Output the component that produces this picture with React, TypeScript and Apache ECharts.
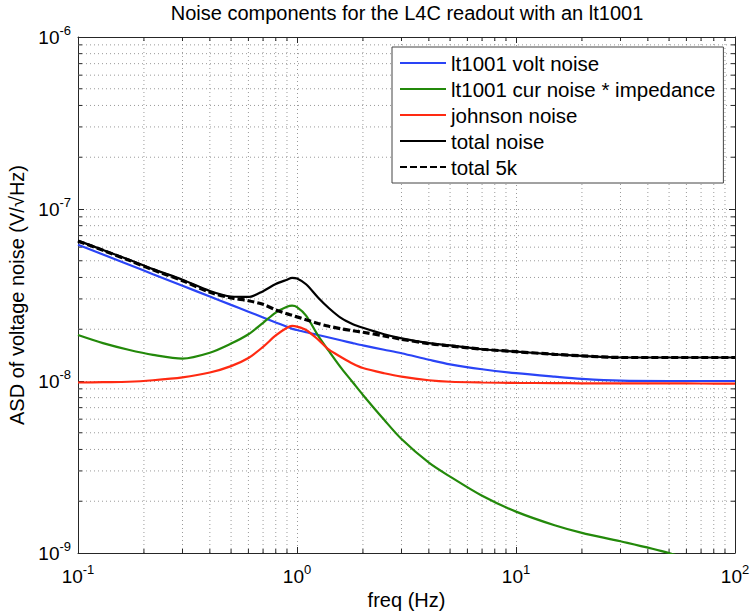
import React, { useEffect, useRef } from 'react';
import * as echarts from 'echarts';

// frequency grid (Hz)
const freqHz = [0.1, 0.13, 0.17, 0.22, 0.3, 0.4, 0.5, 0.6, 0.7, 0.8, 0.9, 0.95, 1.0, 1.1, 1.25, 1.4, 1.6, 1.8, 2.0, 2.5, 3, 4, 5, 7, 10, 15, 20, 30, 50, 70, 100];

// values in nV/sqrt(Hz)
const voltNoiseNV = [62, 54.4, 47.6, 41.8, 35.8, 31.0, 27.7, 25.3, 23.4, 21.9, 20.7, 20.1, 19.8, 19.2, 18.5, 17.9, 17.2, 16.6, 16.1, 15.2, 14.5, 13.3, 12.5, 11.7, 11.1, 10.6, 10.3, 10.05, 10.0, 10.0, 10.0];
const curNoiseNV = [18.5, 16.6, 15.2, 14.2, 13.5, 14.6, 16.5, 18.7, 21.8, 25.0, 27.0, 27.4, 26.9, 24.0, 18.3, 14.9, 11.8, 9.8, 8.3, 5.95, 4.6, 3.35, 2.78, 2.15, 1.74, 1.45, 1.31, 1.17, 1.00, 0.87, 0.75];
const johnsonNoiseNV = [9.8, 9.85, 9.9, 10.1, 10.5, 11.2, 12.2, 13.6, 15.8, 18.4, 20.4, 20.9, 20.7, 19.8, 17.4, 15.2, 13.7, 12.6, 11.9, 11.1, 10.6, 10.1, 9.9, 9.8, 9.75, 9.72, 9.7, 9.7, 9.68, 9.67, 9.65];
const totalNoiseNV = [65.5, 57.8, 50.8, 44.7, 38.8, 33.4, 31.0, 30.8, 33.3, 36.6, 38.8, 39.8, 39.5, 36.5, 30.5, 26.5, 23.1, 21.4, 20.4, 18.7, 17.7, 16.6, 16.1, 15.3, 14.8, 14.3, 14.0, 13.7, 13.7, 13.7, 13.7];
const total5kNV = [65.0, 57.5, 50.5, 44.3, 38.3, 32.8, 30.4, 29.3, 27.9, 25.9, 24.6, 24.1, 23.6, 22.7, 21.6, 20.8, 20.1, 19.6, 19.2, 18.3, 17.5, 16.5, 16.0, 15.3, 14.8, 14.3, 14.0, 13.7, 13.7, 13.7, 13.7];

const seriesNames = ['lt1001 volt noise', 'lt1001 cur noise * impedance', 'johnson noise', 'total noise', 'total 5k'];
const seriesColors = ['#2a44f6', '#23890a', '#ff2a12', '#000000', '#000000'];

const X_MIN = 0.1;
const X_MAX = 100;
const Y_MIN = 1e-9;
const Y_MAX = 1e-6;

const xMinorTicks: number[] = [];
for (const d of [0.1, 1, 10]) for (let k = 2; k <= 9; k++) xMinorTicks.push(+(k * d).toPrecision(3));
const yMinorTicks: number[] = [];
for (const d of [1e-9, 1e-8, 1e-7]) for (let k = 2; k <= 9; k++) yMinorTicks.push(+(k * d).toPrecision(3));

const FONT = "'Liberation Sans', Arial, Helvetica, sans-serif";
const GRID_COLOR = '#9a9a9a';
const AXIS_COLOR = '#262626';

const toPairs = (vals: number[]) => freqHz.map((f, i) => [f, vals[i] * 1e-9]);

const powLabel = (v: number) => {
  const e = Math.round(Math.log10(v));
  return `{b|10}{s|${e}}`;
};
const richPow = {
  b: { fontSize: 19, fontFamily: FONT, color: '#000', lineHeight: 26 },
  s: { fontSize: 13, fontFamily: FONT, color: '#000', lineHeight: 13, verticalAlign: 'top' },
};

export default function App() {
  const ref = useRef<HTMLDivElement>(null);
  useEffect(() => {
    if (!ref.current) return;
    const chart = echarts.init(ref.current, undefined, { renderer: 'svg' });

    const lineSeries = [voltNoiseNV, curNoiseNV, johnsonNoiseNV, totalNoiseNV, total5kNV].map((vals, i) => ({
      name: seriesNames[i],
      type: 'line',
      xAxisIndex: 0,
      yAxisIndex: 0,
      data: toPairs(vals),
      showSymbol: false,
      symbol: 'none',
      smooth: 0.3,
      clip: true,
      z: 3 + i,
      lineStyle: {
        color: seriesColors[i],
        width: i === 4 ? 3.2 : 2.2,
        type: i === 4 ? [7, 3] : 'solid',
      },
      itemStyle: { color: seriesColors[i] },
      emphasis: { disabled: true },
    }));

    const minorX = {
      type: 'custom',
      xAxisIndex: 0,
      yAxisIndex: 0,
      silent: true,
      z: 1,
      clip: false,
      data: xMinorTicks.map((v) => [v, Y_MIN]),
      renderItem: (_p: any, api: any) => {
        const v = api.value(0);
        const b = api.coord([v, Y_MIN]);
        const t = api.coord([v, Y_MAX]);
        return {
          type: 'group',
          children: [
            { type: 'line', shape: { x1: b[0], y1: b[1], x2: t[0], y2: t[1] }, style: { stroke: GRID_COLOR, lineWidth: 1, lineDash: [1, 3] } },
            { type: 'line', shape: { x1: b[0], y1: b[1], x2: b[0], y2: b[1] - 4 }, style: { stroke: AXIS_COLOR, lineWidth: 1 } },
            { type: 'line', shape: { x1: t[0], y1: t[1], x2: t[0], y2: t[1] + 4 }, style: { stroke: AXIS_COLOR, lineWidth: 1 } },
          ],
        };
      },
    };
    const minorY = {
      type: 'custom',
      xAxisIndex: 0,
      yAxisIndex: 0,
      silent: true,
      z: 1,
      clip: false,
      data: yMinorTicks.map((v) => [X_MIN, v]),
      renderItem: (_p: any, api: any) => {
        const v = api.value(1);
        const l = api.coord([X_MIN, v]);
        const r = api.coord([X_MAX, v]);
        return {
          type: 'group',
          children: [
            { type: 'line', shape: { x1: l[0], y1: l[1], x2: r[0], y2: r[1] }, style: { stroke: GRID_COLOR, lineWidth: 1, lineDash: [1, 3] } },
            { type: 'line', shape: { x1: l[0], y1: l[1], x2: l[0] + 4, y2: l[1] }, style: { stroke: AXIS_COLOR, lineWidth: 1 } },
            { type: 'line', shape: { x1: r[0], y1: r[1], x2: r[0] - 4, y2: r[1] }, style: { stroke: AXIS_COLOR, lineWidth: 1 } },
          ],
        };
      },
    };

    const axisCommon = {
      type: 'log',
      logBase: 10,
      axisLine: { show: true, onZero: false, lineStyle: { color: AXIS_COLOR, width: 1 } },
      axisTick: { show: true, inside: true, length: 6, lineStyle: { color: AXIS_COLOR, width: 1 } },
    };

    chart.setOption({
      animation: false,
      backgroundColor: '#ffffff',
      title: {
        text: 'Noise components for the L4C readout with an lt1001',
        left: 407,
        top: 3,
        padding: 0,
        textAlign: 'center',
        textStyle: { fontFamily: FONT, fontSize: 20, fontWeight: 'normal', color: '#000' },
      },
      legend: {
        data: seriesNames,
        orient: 'vertical',
        left: 392,
        top: 47,
        padding: [3, 8, 3, 7],
        itemGap: 0,
        itemWidth: 46,
        itemHeight: 14,
        itemStyle: { opacity: 0 },
        backgroundColor: '#ffffff',
        borderColor: '#444',
        borderWidth: 1,
        borderRadius: 0,
        selectedMode: false,
        textStyle: { fontFamily: FONT, fontSize: 20.5, color: '#000', lineHeight: 26, padding: [0, 0, 0, 0] },
        z: 10,
      },
      grid: { left: 78, top: 37, width: 657, height: 516, show: false, outerBoundsMode: 'none', containLabel: false },
      xAxis: [
        {
          ...axisCommon,
          position: 'bottom',
          min: X_MIN,
          max: X_MAX,
          name: 'freq (Hz)',
          nameLocation: 'middle',
          nameGap: 37,
          nameTextStyle: { fontFamily: FONT, fontSize: 20, color: '#000' },
          axisLabel: { formatter: powLabel, rich: richPow, margin: 10, showMinLabel: true, showMaxLabel: true, hideOverlap: false },
          splitLine: { show: true, lineStyle: { color: GRID_COLOR, width: 1, type: [1, 3] } },
        },
        {
          ...axisCommon,
          position: 'top',
          min: X_MIN,
          max: X_MAX,
          axisLabel: { show: false },
          splitLine: { show: false },
        },
      ],
      yAxis: [
        {
          ...axisCommon,
          position: 'left',
          min: Y_MIN,
          max: Y_MAX,
          name: 'ASD of voltage noise (V/\u221AHz)',
          nameLocation: 'middle',
          nameGap: 48,
          nameTextStyle: { fontFamily: FONT, fontSize: 20, color: '#000' },
          axisLabel: { formatter: powLabel, rich: richPow, margin: 7, showMinLabel: true, showMaxLabel: true, hideOverlap: false },
          splitLine: { show: true, lineStyle: { color: GRID_COLOR, width: 1, type: [1, 3] } },
        },
        {
          ...axisCommon,
          position: 'right',
          min: Y_MIN,
          max: Y_MAX,
          axisLabel: { show: false },
          splitLine: { show: false },
        },
      ],
      series: [minorX, minorY, ...lineSeries],
    });

    return () => chart.dispose();
  }, []);

  return (
    <div
      ref={ref}
      style={{ position: 'fixed', left: 0, top: 0, width: 752, height: 615, background: '#fff' }}
    />
  );
}
